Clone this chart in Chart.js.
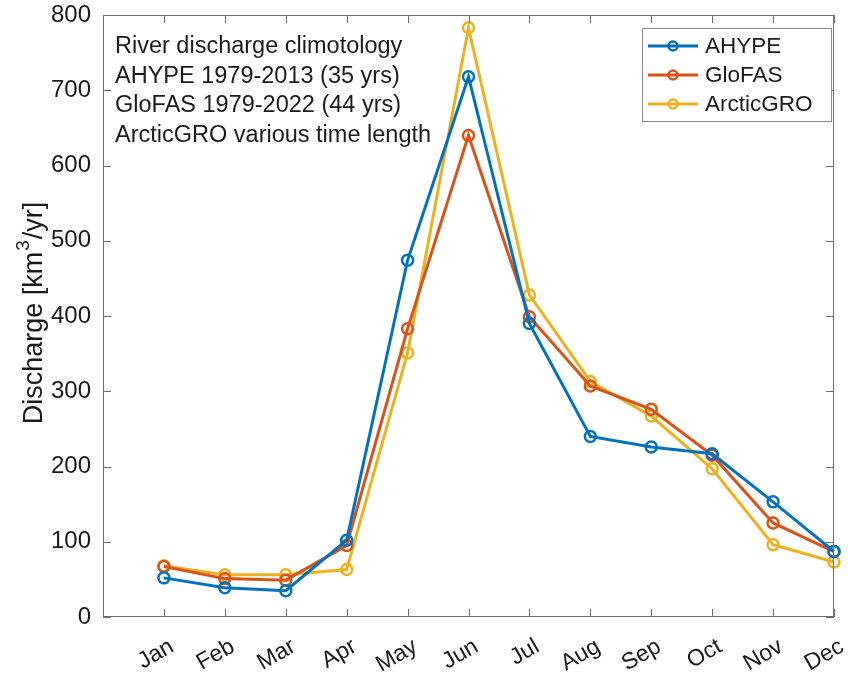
<!DOCTYPE html>
<html lang="en">
<head>
    <meta charset="UTF-8">
    <title>River discharge climatology</title>
    <script src="https://cdn.jsdelivr.net/npm/chart.js"></script>
    <style>
        html, body { margin: 0; padding: 0; background: #fff; }
        #wrap { width: 848px; height: 675px; }
    </style>
</head>
<body>
<div id="wrap"><canvas id="dischargeChart"></canvas></div>
<script>
    const months = ['Jan', 'Feb', 'Mar', 'Apr', 'May', 'Jun', 'Jul', 'Aug', 'Sep', 'Oct', 'Nov', 'Dec'];
    const ahype = [52, 39, 35, 102, 474, 718, 390, 240, 226, 217, 153, 87];
    const glofas = [67, 51, 49, 95, 383, 640, 399, 307, 276, 215, 125, 87];
    const arcticgro = [68, 56, 56, 63, 351, 783, 428, 313, 267, 197, 96, 73];
    const yTicks = [0, 100, 200, 300, 400, 500, 600, 700, 800];
    const noteLines = [
        'River discharge climotology',
        'AHYPE 1979-2013 (35 yrs)',
        'GloFAS 1979-2022 (44 yrs)',
        'ArcticGRO various time length'
    ];

    const FONT = '"Liberation Sans", Arial, sans-serif';
    const AXIS_COLOR = '#6e6e6e';
    const TEXT_COLOR = '#1a1a1a';

    function toPoints(values) {
        return values.map((v, i) => ({ x: i + 1, y: v }));
    }

    function series(label, values, color) {
        return {
            label: label,
            data: toPoints(values),
            borderColor: color,
            backgroundColor: color,
            borderWidth: 3,
            pointRadius: 5.5,
            pointBorderWidth: 2.5,
            pointBackgroundColor: 'rgba(0,0,0,0)',
            pointBorderColor: color,
            tension: 0,
            clip: false
        };
    }

    // axes box, inward ticks, month labels, y label, note text and legend, drawn like MATLAB does
    const matlabLook = {
        id: 'matlabLook',
        afterDraw(chart) {
            const ctx = chart.ctx;
            const a = chart.chartArea;
            const xs = chart.scales.x;
            const ys = chart.scales.y;
            ctx.save();
            ctx.strokeStyle = AXIS_COLOR;
            ctx.lineWidth = 1;
            ctx.strokeRect(a.left + 0.5, a.top + 0.5, a.right - a.left - 1, a.bottom - a.top - 1);
            const tl = 8;
            ctx.beginPath();
            for (let m = 1; m <= 12; m++) {
                const px = Math.round(xs.getPixelForValue(m)) + 0.5;
                ctx.moveTo(px, a.bottom); ctx.lineTo(px, a.bottom - tl);
                ctx.moveTo(px, a.top); ctx.lineTo(px, a.top + tl);
            }
            yTicks.forEach(t => {
                const py = Math.round(ys.getPixelForValue(t)) + 0.5;
                ctx.moveTo(a.left, py); ctx.lineTo(a.left + tl, py);
                ctx.moveTo(a.right, py); ctx.lineTo(a.right - tl, py);
            });
            ctx.stroke();

            // rotated month labels
            ctx.fillStyle = TEXT_COLOR;
            ctx.font = '23px ' + FONT;
            ctx.textAlign = 'right';
            ctx.textBaseline = 'middle';
            months.forEach((m, i) => {
                ctx.save();
                ctx.translate(xs.getPixelForValue(i + 1) + 8, a.bottom + 28);
                ctx.rotate(-Math.PI / 6);
                ctx.fillText(m, 0, 0);
                ctx.restore();
            });

            // y axis label with a real superscript
            ctx.save();
            ctx.translate(35, (a.top + a.bottom) / 2 - 3);
            ctx.rotate(-Math.PI / 2);
            ctx.fillStyle = TEXT_COLOR;
            ctx.textBaseline = 'middle';
            ctx.textAlign = 'left';
            const big = '27px ' + FONT, small = '19px ' + FONT;
            const p1 = 'Discharge [km', p2 = '3', p3 = '/yr]';
            ctx.font = big;
            const w1 = ctx.measureText(p1).width, w3 = ctx.measureText(p3).width;
            ctx.font = small;
            const w2 = ctx.measureText(p2).width;
            let x0 = -(w1 + w2 + w3 + 2) / 2;
            ctx.font = big;
            ctx.fillText(p1, x0, 0);
            ctx.font = small;
            ctx.fillText(p2, x0 + w1 + 1, -11);
            ctx.font = big;
            ctx.fillText(p3, x0 + w1 + w2 + 2, 0);
            ctx.restore();

            // note text
            ctx.fillStyle = TEXT_COLOR;
            ctx.font = '23.5px ' + FONT;
            ctx.textBaseline = 'middle';
            ctx.textAlign = 'left';
            noteLines.forEach((line, i) => {
                ctx.fillText(line, a.left + 12, a.top + 32 + i * 29.5);
            });

            // legend
            const lx = 642, ly = 28, lw = 189, lh = 93;
            ctx.fillStyle = '#fff';
            ctx.fillRect(lx, ly, lw, lh);
            ctx.strokeStyle = '#8a8a8a';
            ctx.lineWidth = 1;
            ctx.strokeRect(lx + 0.5, ly + 0.5, lw, lh);
            chart.data.datasets.forEach((ds, i) => {
                const cy = ly + 18 + i * 29;
                ctx.strokeStyle = ds.borderColor;
                ctx.lineWidth = 3;
                ctx.beginPath();
                ctx.moveTo(lx + 6, cy); ctx.lineTo(lx + 56, cy);
                ctx.stroke();
                ctx.lineWidth = 2.5;
                ctx.beginPath();
                ctx.arc(lx + 31, cy, 4.5, 0, Math.PI * 2);
                ctx.stroke();
                ctx.fillStyle = TEXT_COLOR;
                ctx.font = '22.5px ' + FONT;
                ctx.fillText(ds.label, lx + 63, cy + 1);
            });
            ctx.restore();
        }
    };

    new Chart(document.getElementById('dischargeChart'), {
        type: 'line',
        data: {
            datasets: [
                series('AHYPE', ahype, '#0072BD'),
                series('GloFAS', glofas, '#D95319'),
                series('ArcticGRO', arcticgro, '#EDB120')
            ]
        },
        options: {
            responsive: true,
            maintainAspectRatio: false,
            animation: false,
            layout: { padding: { top: 15, right: 14, left: 0, bottom: 0 } },
            plugins: {
                legend: { display: false },
                tooltip: { enabled: false }
            },
            scales: {
                x: {
                    type: 'linear',
                    min: 0,
                    max: 12,
                    grid: { display: false, drawTicks: false },
                    border: { display: false },
                    afterBuildTicks(scale) {
                        scale.ticks = months.map((m, i) => ({ value: i + 1 }));
                    },
                    afterFit(scale) {
                        scale.height = 58;
                        scale.paddingLeft = 0;
                        scale.paddingRight = 0;
                    },
                    ticks: { display: false }
                },
                y: {
                    min: 0,
                    max: 800,
                    grid: { display: false, drawTicks: false },
                    border: { display: false },
                    afterBuildTicks(scale) {
                        scale.ticks = yTicks.map(v => ({ value: v }));
                    },
                    afterFit(scale) {
                        scale.width = 103;
                        scale.paddingTop = 0;
                        scale.paddingBottom = 0;
                    },
                    ticks: {
                        padding: 12,
                        color: TEXT_COLOR,
                        font: { family: FONT, size: 24 }
                    }
                }
            }
        },
        plugins: [matlabLook]
    });
</script>
</body>
</html>
